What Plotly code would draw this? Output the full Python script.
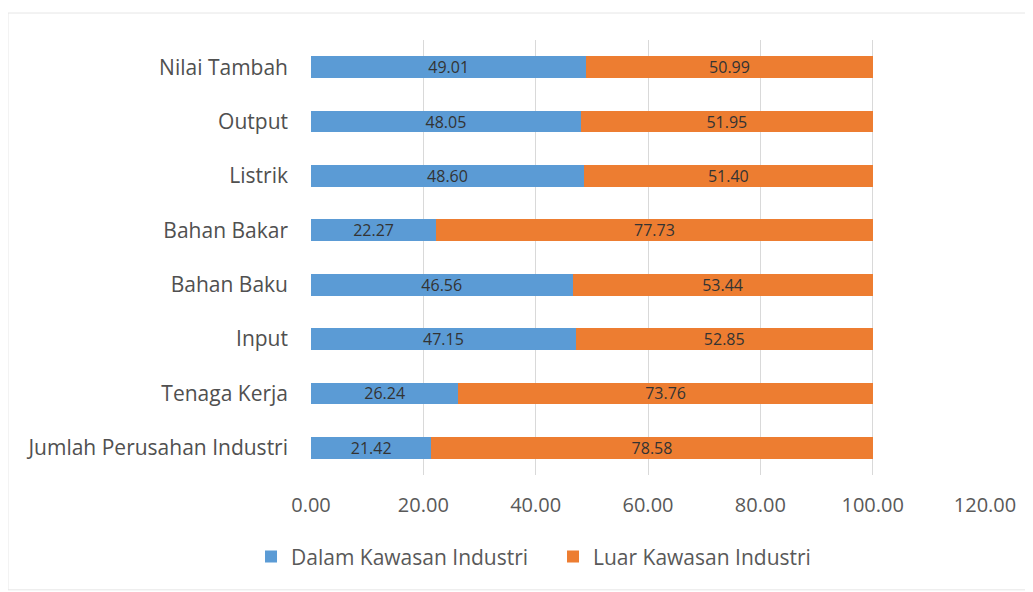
import plotly.graph_objects as go

categories = ["Jumlah Perusahan Industri", "Tenaga Kerja", "Input", "Bahan Baku",
              "Bahan Bakar", "Listrik", "Output", "Nilai Tambah"]
dalam = [21.42, 26.24, 47.15, 46.56, 22.27, 48.60, 48.05, 49.01]
luar = [78.58, 73.76, 52.85, 53.44, 77.73, 51.40, 51.95, 50.99]
series_names = ["Dalam Kawasan Industri", "Luar Kawasan Industri"]
tick_vals = [0, 20, 40, 60, 80, 100, 120]

FONT = "Open Sans"
fig = go.Figure()
for name, vals, color in [(series_names[0], dalam, "#5B9BD5"), (series_names[1], luar, "#ED7D31")]:
    fig.add_trace(go.Bar(
        y=categories, x=vals, name=name, orientation="h",
        marker=dict(color=color, line=dict(width=0)),
        text=[f"{v:.2f}" for v in vals], textposition="inside",
        insidetextanchor="middle",
        textfont=dict(family=FONT, size=16, color="#333333"),
    ))

fig.update_layout(
    barmode="stack", bargap=0.6,
    width=1033, height=592,
    margin=dict(l=303, r=56, t=32, b=125),
    plot_bgcolor="white", paper_bgcolor="white",
    font=dict(family=FONT, color="#595959"),
    xaxis=dict(range=[0, 120], tickvals=tick_vals, tickformat=".2f",
               showgrid=True, gridcolor="#D9D9D9", gridwidth=1,
               zeroline=False, showline=False, ticks="",
               ticklabelstandoff=16,
               tickfont=dict(size=20, color="#595959")),
    yaxis=dict(showgrid=False, ticks="", showline=False,
               ticklabelstandoff=22,
               tickfont=dict(size=21, color="#505050")),
    legend=dict(orientation="h", x=-0.089, xanchor="left", y=-0.188, yanchor="middle",
                entrywidth=257, entrywidthmode="pixels",
                font=dict(size=21, color="#595959"), traceorder="normal"),
    uniformtext=dict(mode="show", minsize=16),
)
fig.add_shape(type="rect", xref="paper", yref="paper",
              x0=-0.4496, x1=1.0638, y0=-0.264, y1=1.062,
              line=dict(color="#E6E6E6", width=1), layer="below")
fig.write_html("out.html")
